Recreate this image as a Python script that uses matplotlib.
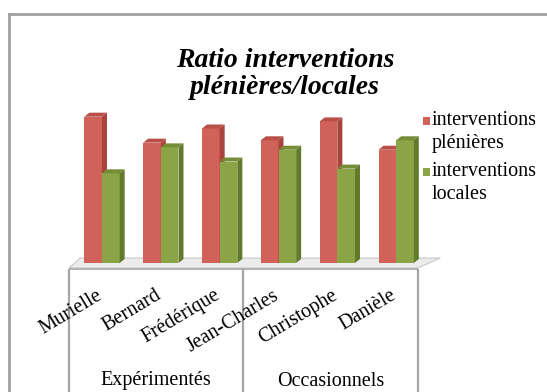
import matplotlib
matplotlib.use("Agg")
import matplotlib.pyplot as plt
from matplotlib.patches import Polygon, Rectangle
from matplotlib.lines import Line2D

plt.rcParams['font.family'] = ['Liberation Serif', 'DejaVu Serif']

names = ["Murielle", "Bernard", "Frédérique", "Jean-Charles", "Christophe", "Danièle"]
groups = ["Expérimentés", "Occasionnels"]
plenieres = [62, 51, 57, 52, 60, 48]
locales = [38, 49, 43, 48, 40, 52]
series_labels = ["interventions\nplénières", "interventions\nlocales"]

W, H = 547, 392
fig = plt.figure(figsize=(W / 100, H / 100), dpi=100)
fig.patch.set_facecolor("white")


def fx(px):
    return px / W


def fy(py):
    return 1 - py / H


# axes placed so that 0 % sits on the floor line
px_per_unit = 2.36
base_px = 263
ylo, yhi = -3, 68
xlo, xhi = -0.6, 6.0
left_px = 66.7
right_px = 455
top_px = base_px - yhi * px_per_unit
bot_px = base_px - ylo * px_per_unit
ax = fig.add_axes([fx(left_px), fy(bot_px), fx(right_px) - fx(left_px), (bot_px - top_px) / H])
ax.set_xlim(xlo, xhi)
ax.set_ylim(ylo, yhi)
ax.axis("off")

# depth of the 3D extrusion, in data units
px_per_x = (right_px - left_px) / (xhi - xlo)
dx = 5 / px_per_x
dy = 4 / px_per_unit

# floor slab
floor_front = -2.1
floor_back = 2.1
fl, fr = -0.56, 5.37
bl, br = -0.37, 5.75
ax.add_patch(Polygon([(fl, floor_front), (fr, floor_front), (br, floor_back), (bl, floor_back)],
                     closed=True, facecolor="#ececec", edgecolor="#c8c8c8", lw=0.8, zorder=1))
ax.add_patch(Polygon([(fl, floor_front), (fr, floor_front), (fr, floor_front - 0.9), (fl, floor_front - 0.9)],
                     closed=True, facecolor="#b4b4b4", edgecolor="none", zorder=1))

bw = 0.3
colors = [("#d0625a", "#a9443d", "#b85049"), ("#8ba446", "#627a2c", "#748d36")]


def bar3d(x0, h, front, side, top):
    x1 = x0 + bw
    ax.add_patch(Rectangle((x0, 0), bw, h, facecolor=front, edgecolor="none", zorder=3))
    ax.add_patch(Polygon([(x1, 0), (x1, h), (x1 + dx, h + dy), (x1 + dx, dy)],
                         closed=True, facecolor=side, edgecolor="none", zorder=3))
    ax.add_patch(Polygon([(x0, h), (x1, h), (x1 + dx, h + dy), (x0 + dx, h + dy)],
                         closed=True, facecolor=top, edgecolor="none", zorder=3))


for i in range(len(names)):
    bar3d(i - bw, plenieres[i], *colors[0])
    bar3d(i, locales[i], *colors[1])

# group separators under the floor
sep_bottom = (base_px - H) / px_per_unit
for xs in [fl, (fl + fr) / 2, fr]:
    ax.add_line(Line2D([xs, xs], [floor_front - 0.9, sep_bottom], color="#a6a6a6", lw=1.6,
                       clip_on=False, zorder=2))

# category labels
lab_y = (base_px - 286) / px_per_unit
for i, n in enumerate(names):
    ax.text(i - 0.1, lab_y, n, rotation=31, ha="right", va="top", rotation_mode="anchor",
            fontsize=14.5, clip_on=False)

# group labels
grp_y = (base_px - 381) / px_per_unit
mid = (fl + fr) / 2
for g, xc in zip(groups, [(fl + mid) / 2, (mid + fr) / 2]):
    ax.text(xc, grp_y, g, ha="center", va="center", fontsize=14.5, clip_on=False)

# title
fig.text(fx(285), fy(74), "Ratio interventions\nplénières/locales", ha="center", va="center",
         fontsize=20, fontweight="bold", fontstyle="italic", linespacing=1.12)

# legend
for k, (lab, c) in enumerate(zip(series_labels, colors)):
    top = 117 + k * 51
    fig.patches.append(Rectangle((fx(423), fy(top + 8)), fx(7), 8 / H, facecolor=c[0],
                                 edgecolor="none", transform=fig.transFigure, figure=fig))
    fig.text(fx(432), fy(top - 6), lab, ha="left", va="top", fontsize=14.5, linespacing=1.3)

# outer frame
fig.add_artist(Line2D([fx(9), fx(W)], [fy(14), fy(14)], color="#a0a0a0", lw=2))
fig.add_artist(Line2D([fx(9), fx(9)], [fy(14), fy(H)], color="#a0a0a0", lw=2))

fig.savefig("out.png", dpi=100)
